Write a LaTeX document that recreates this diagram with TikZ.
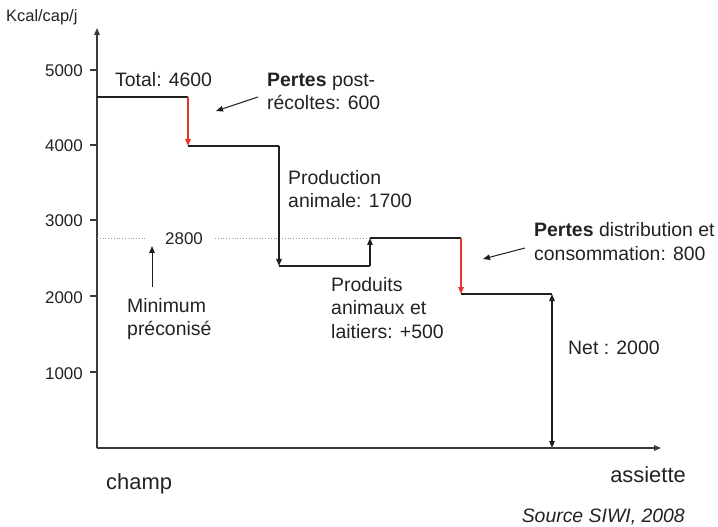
\documentclass[tikz,border=0pt]{standalone}
\usepackage{fontspec}
\setmainfont{Liberation Sans}
\usetikzlibrary{arrows.meta}
\definecolor{axisgray}{HTML}{3A3A3A}
\definecolor{lossred}{HTML}{E8342C}
\definecolor{txt}{HTML}{222222}
\begin{document}
\begin{tikzpicture}[x=1bp,y=-1bp,
  tip/.tip={Triangle[length=7bp,width=5.5bp]},
  axis/.style={draw=axisgray, line width=1.4bp},
  tickmark/.style={draw=axisgray, line width=1.2bp},
  stepline/.style={draw=black!88, line width=1.2bp},
  flow/.style={stepline, -tip},
  both/.style={stepline, tip-tip},
  loss/.style={draw=lossred, line width=1.2bp, -tip},
  note/.style={draw=black!88, line width=1bp, -tip},
  minline/.style={draw=gray!80, line width=0.8bp, dotted},
  lbl/.style={inner sep=0, anchor=base west, text=txt, font=\fontsize{19.5}{24}\selectfont},
  ticklbl/.style={inner sep=0, anchor=base east, text=txt, font=\fontsize{17}{20}\selectfont},
  biglbl/.style={inner sep=0, text=txt, font=\fontsize{22}{26}\selectfont}
]
\useasboundingbox (0,0) rectangle (718,527);
% axes
\coordinate (O) at (97,448);
\coordinate (ytop) at (97,28);
\coordinate (xend) at (661,448);
\draw[axis, -tip] (O) -- (ytop);
\draw[axis, -tip] (O) -- (xend);
% ticks
\foreach \v/\yy/\bl in {5000/70/77, 4000/145/152, 3000/220/227, 2000/296/303, 1000/372/379} {
  \coordinate (t\v) at (97,\yy);
  \coordinate (tl\v) at (90,\yy);
  \draw[tickmark] (t\v) -- (tl\v);
  \node[ticklbl] (lab\v) at (83,\bl) {\v};
}
\node[inner sep=0, anchor=base west, text=txt, font=\fontsize{16.5}{20}\selectfont] (unit) at (6,22) {Kcal/cap/j};
% step corners
\coordinate (s0) at (97,97);
\coordinate (s1) at (188,97);
\coordinate (s2) at (188,146);
\coordinate (s3) at (279,146);
\coordinate (s4) at (279,266);
\coordinate (s5) at (370,266);
\coordinate (s6) at (370,238);
\coordinate (s7) at (461,238);
\coordinate (s8) at (461,294);
\coordinate (s9) at (552,294);
\coordinate (s10) at (552,448);
% minimum line
\coordinate (m0) at (97,238);
\coordinate (m1) at (145,238);
\coordinate (m2) at (215,238);
\draw[minline] (m0) -- (m1);
\draw[minline] (m2) -- (s6);
\node[inner sep=0, anchor=base west, text=txt, font=\fontsize{17}{20}\selectfont] (v2800) at (165,245) {2800};
% steps
\draw[stepline] (s0) -- (s1);
\draw[loss] (s1) -- (s2);
\draw[stepline] (s2) -- (s3);
\draw[flow] (s3) -- (s4);
\draw[stepline] (s4) -- (s5);
\draw[flow] (s5) -- (s6);
\draw[stepline] (s6) -- (s7);
\draw[loss] (s7) -- (s8);
\draw[stepline] (s8) -- (s9);
\draw[both] (s9) -- (s10);
% labels
\node[lbl] (total) at (115,87) {Total: 4600};
\node[lbl] (pp1) at (267,87) {\textbf{Pertes} post-};
\node[lbl] (pp2) at (267,110) {récoltes: 600};
\coordinate (ppa) at (258,97);
\coordinate (ppb) at (216,111);
\draw[note] (ppa) -- (ppb);
\node[lbl] (pa1) at (288,185) {Production};
\node[lbl] (pa2) at (288,208) {animale: 1700};
\node[lbl] (pd1) at (534,237) {\textbf{Pertes} distribution et};
\node[lbl] (pd2) at (534,261) {consommation: 800};
\coordinate (pda) at (525,248);
\coordinate (pdb) at (483,259);
\draw[note] (pda) -- (pdb);
\node[lbl] (pr1) at (331,291) {Produits};
\node[lbl] (pr2) at (331,314) {animaux et};
\node[lbl] (pr3) at (331,338) {laitiers: +500};
\node[lbl] (mn1) at (127,312) {Minimum};
\node[lbl] (mn2) at (127,335) {préconisé};
\coordinate (mna) at (152,287);
\coordinate (mnb) at (152,246);
\draw[note] (mna) -- (mnb);
\node[lbl] (net) at (568,354) {Net : 2000};
\node[biglbl, anchor=base west] (champ) at (106,489) {champ};
\node[biglbl, anchor=base east] (assiette) at (686,482) {assiette};
\node[lbl, anchor=base east, font=\fontsize{19.5}{24}\selectfont\itshape] (src) at (685,522) {Source SIWI, 2008};
\end{tikzpicture}
\end{document}
